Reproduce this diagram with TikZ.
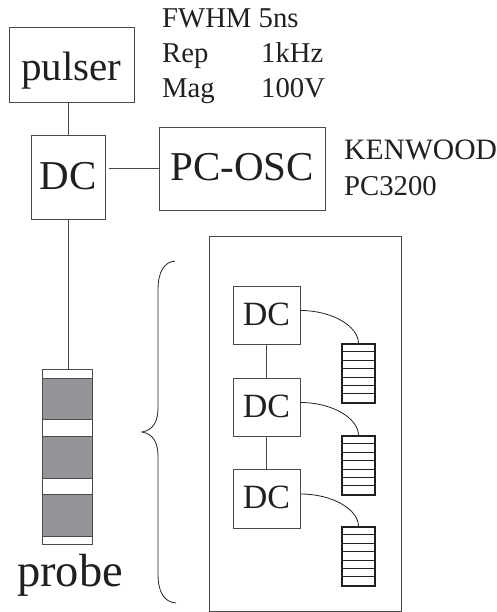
\documentclass[tikz,border=0pt]{standalone}
\usepackage{fontspec}
\setmainfont{Liberation Serif}
\usetikzlibrary{calc}
\definecolor{ink}{HTML}{231F20}
\definecolor{edge}{HTML}{4A4A4A}
\definecolor{core}{HTML}{939598}
\tikzset{
  x=1pt,y=-1pt,
  labeltext/.style={anchor=base west,inner sep=0pt,text=ink,font=\fontsize{28.7}{29}\selectfont},
  % box placed by its baseline: #1 width, #2 height above baseline, #3 depth below baseline
  boxbase/.style n args={3}{anchor=base,draw=edge,line width=0.9pt,inner sep=0pt,text=ink,
    align=center,text width=#1,text height=#2,text depth=#3},
  bigfont/.style={font=\fontsize{41}{41}\selectfont},
  smallfont/.style={font=\fontsize{34}{34}\selectfont},
  conn/.style={draw=edge,line width=0.9pt},
  curveconn/.style={draw=ink,line width=0.8pt},
  stackbox/.style={draw=ink,line width=1.2pt,minimum width=33pt,minimum height=59pt,inner sep=0pt},
  stackrow/.style={draw=ink,line width=1pt},
  band/.style={fill=core,draw=edge,line width=0.9pt},
}
\begin{document}
\begin{tikzpicture}
\useasboundingbox (0,0) rectangle (497,612);
% top row
\node[boxbase={125pt}{54pt}{21pt},bigfont] (pulser) at (71.5,81) {pulser};
\node[boxbase={74pt}{55pt}{29pt},bigfont] (dc) at (68,190) {DC};
\node[boxbase={166pt}{54pt}{29pt},bigfont] (pc) at (242,181) {PC-OSC};
\draw[conn] (dc.north) -- (dc.north |- pulser.south);
\draw[conn,shorten <=4pt] (dc.east |- pc.west) -- (pc.west);
% labels
\node[labeltext] (t1) at (162,28) {FWHM 5ns};
\node[labeltext] (t2) at (162,63) {Rep};
\node[labeltext] (t2b) at (261,63) {1kHz};
\node[labeltext] (t3) at (162,98) {Mag};
\node[labeltext] (t3b) at (261,98) {100V};
\node[labeltext,font=\fontsize{29.6}{30}\selectfont] (t4) at (344,160) {KENWOOD};
\node[labeltext] (t5) at (344,196) {PC3200};
% probe
\node[draw=edge,line width=0.9pt,fill=white,minimum width=50pt,minimum height=175pt,inner sep=0pt] (probe) at (67,456.5) {};
\draw[conn] (dc.south) -- (dc.south |- probe.north);
\draw[band] (42,378) rectangle (92,419);
\draw[band] (42,436) rectangle (92,478);
\draw[band] (42,494) rectangle (92,536);
\node[anchor=base,inner sep=0pt,text=ink,font=\fontsize{46.5}{46.5}\selectfont] (probelabel) at (70,586) {probe};
% brace
\draw[draw=ink,line width=0.8pt] (175,261) .. controls (164,262) and (158,272) .. (158,290)
  -- (158,408) .. controls (158,420) and (154,430) .. (142,432)
  .. controls (154,434) and (158,444) .. (158,456)
  -- (158,574) .. controls (158,592) and (164,602) .. (176,603);
% right panel
\node[draw=edge,line width=0.9pt,minimum width=192pt,minimum height=375pt,inner sep=0pt] (panel) at (305,423.5) {};
\node[boxbase={67pt}{39pt}{19pt},smallfont] (d1) at (266.5,325) {DC};
\node[boxbase={67pt}{39pt}{19pt},smallfont] (d2) at (266.5,417) {DC};
\node[boxbase={67pt}{39pt}{20pt},smallfont] (d3) at (266.5,508) {DC};
\draw[conn] (d1.south) -- (d2.north);
\draw[conn] (d2.south) -- (d3.north);
\foreach \n/\y/\d in {s1/373.5/d1,s2/465.5/d2,s3/556.5/d3}{
  \node[stackbox] (\n) at (358.5,\y) {};
  \foreach \k in {1,...,6}{
    \draw[stackrow] ($(\n.north west)+(0,\k*8.43)$) -- ($(\n.north east)+(0,\k*8.43)$);
  }
  \draw[curveconn] ($(\d.east)+(0,-4.5)$) .. controls ($(\d.east)+(32,-4.5)$) and ($(\n.north)+(0,-17)$) .. (\n.north);
}
\end{tikzpicture}
\end{document}
